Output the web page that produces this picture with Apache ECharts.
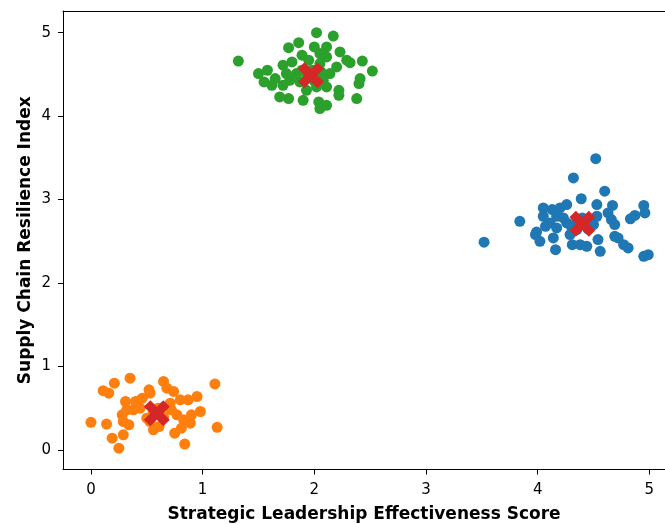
<!DOCTYPE html>
<html>
<head>
<meta charset="utf-8">
<script src="https://cdn.jsdelivr.net/npm/echarts@6/dist/echarts.min.js"></script>
<style>html,body{margin:0;padding:0;background:#fff}#c{width:665px;height:524px}</style>
</head>
<body>
<div id="c"></div>
<script>
var blueCluster = [[4.52,3.49],[4.32,3.26],[4.60,3.10],[4.39,3.01],[4.53,2.94],[4.67,2.93],[4.95,2.93],[4.96,2.84],[4.87,2.81],[4.83,2.77],[4.63,2.84],[4.66,2.76],[4.69,2.70],[4.05,2.90],[4.13,2.88],[4.20,2.90],[4.26,2.94],[3.84,2.74],[4.05,2.80],[4.17,2.80],[3.99,2.61],[3.98,2.58],[4.07,2.68],[4.14,2.54],[4.02,2.50],[4.16,2.40],[4.31,2.46],[4.38,2.46],[4.44,2.44],[4.29,2.58],[4.35,2.64],[4.54,2.52],[4.56,2.38],[4.50,2.70],[4.53,2.80],[4.26,2.72],[4.23,2.78],[4.69,2.56],[4.72,2.54],[4.77,2.46],[4.81,2.42],[4.95,2.32],[4.99,2.34],[4.11,2.72],[4.17,2.66],[3.52,2.49],[4.35,2.75],[4.45,2.65],[4.40,2.78],[4.47,2.72],[4.30,2.68]];
var orangeCluster = [[0.35,0.86],[0.21,0.80],[0.11,0.71],[0.16,0.68],[1.11,0.79],[0.65,0.82],[0.68,0.74],[0.74,0.70],[0.53,0.68],[0.46,0.62],[0.40,0.58],[0.31,0.58],[0.32,0.48],[0.28,0.42],[0.29,0.34],[0.38,0.48],[0.44,0.50],[0.00,0.33],[0.14,0.31],[0.19,0.14],[0.25,0.02],[0.29,0.18],[0.34,0.30],[0.56,0.24],[0.61,0.28],[0.75,0.20],[0.84,0.07],[1.13,0.27],[0.80,0.60],[0.87,0.60],[0.95,0.64],[0.98,0.46],[0.89,0.32],[0.83,0.36],[0.77,0.42],[0.72,0.48],[0.71,0.56],[0.62,0.50],[0.53,0.34],[0.81,0.26],[0.90,0.42],[0.52,0.72],[0.55,0.42],[0.65,0.40],[0.60,0.50],[0.50,0.38]];
var greenCluster = [[1.32,4.66],[2.02,5.00],[2.17,4.96],[1.77,4.82],[1.86,4.88],[2.00,4.83],[2.11,4.83],[1.89,4.73],[2.05,4.75],[2.23,4.77],[2.29,4.67],[2.32,4.64],[2.43,4.66],[2.52,4.54],[2.41,4.45],[2.40,4.39],[2.38,4.21],[2.22,4.31],[2.22,4.25],[2.11,4.35],[2.14,4.51],[2.20,4.59],[1.50,4.51],[1.58,4.55],[1.55,4.41],[1.62,4.37],[1.65,4.45],[1.72,4.61],[1.80,4.65],[1.89,4.55],[1.72,4.37],[1.78,4.43],[1.69,4.23],[1.77,4.21],[1.90,4.19],[1.93,4.31],[2.04,4.17],[2.05,4.09],[2.11,4.13],[2.08,4.43],[2.02,4.35],[1.87,4.41],[1.95,4.67],[2.05,4.63],[2.11,4.71],[1.75,4.51],[1.84,4.51],[1.98,4.55],[2.00,4.42],[1.93,4.50],[2.06,4.53]];
var centroids = [[4.40,2.71],[0.59,0.44],[1.97,4.49]];
var xTicks = [0,1,2,3,4,5];
var yTicks = [0,1,2,3,4,5];
var xName = 'Strategic Leadership Effectiveness Score';
var yName = 'Supply Chain Resilience Index';

var xPath = 'path://M424 0 L283 142 L142 0 L0 142 L142 283 L0 424 L142 566 L283 424 L424 566 L566 424 L424 283 L566 142 Z';
var font = 'DejaVu Sans';
function dots(data, color) {
  return {type:'scatter', data:data, symbol:'circle', symbolSize:11,
    itemStyle:{color:color, opacity:1}, silent:true, animation:false, z:2};
}
var chart = echarts.init(document.getElementById('c'), null, {renderer:'canvas'});
chart.setOption({
  animation:false,
  grid:{left:63, top:11, right:0, height:458.5, show:false, containLabel:false, outerBoundsMode:'none'},
  xAxis:[{type:'value', min:-0.25, max:5.14, position:'bottom',
    name:xName, nameLocation:'middle', nameGap:37,
    nameTextStyle:{fontFamily:font, fontWeight:'bold', fontSize:17, color:'#000'},
    axisLine:{show:true, onZero:false, lineStyle:{color:'#000', width:1}}, splitLine:{show:false},
    axisTick:{show:true, inside:false, length:5, lineStyle:{color:'#000'}, customValues:xTicks},
    axisLabel:{fontFamily:font, fontSize:15, color:'#000', margin:13, customValues:xTicks}},
   {type:'value', min:-0.25, max:5.14, position:'top',
    axisLine:{show:true, onZero:false, lineStyle:{color:'#000', width:1}}, splitLine:{show:false},
    axisTick:{show:false}, axisLabel:{show:false}}],
  yAxis:{type:'value', min:-0.235, max:5.26, position:'left',
    name:yName, nameLocation:'middle', nameGap:29, nameMoveOverlap:false,
    nameTextStyle:{fontFamily:font, fontWeight:'bold', fontSize:17, color:'#000'},
    axisLine:{show:true, onZero:false, lineStyle:{color:'#000', width:1}}, splitLine:{show:false},
    axisTick:{show:true, inside:false, length:5, lineStyle:{color:'#000'}, customValues:yTicks},
    axisLabel:{fontFamily:font, fontSize:15, color:'#000', margin:12, customValues:yTicks}},
  series:[
    dots(blueCluster,'#1f77b4'),
    dots(orangeCluster,'#ff7f0e'),
    dots(greenCluster,'#2ca02c'),
    {type:'scatter', data:centroids, symbol:xPath, symbolSize:26, z:10, zlevel:1,
      itemStyle:{color:'#d62728', opacity:1}, silent:true}
  ]
});
</script>
</body>
</html>
